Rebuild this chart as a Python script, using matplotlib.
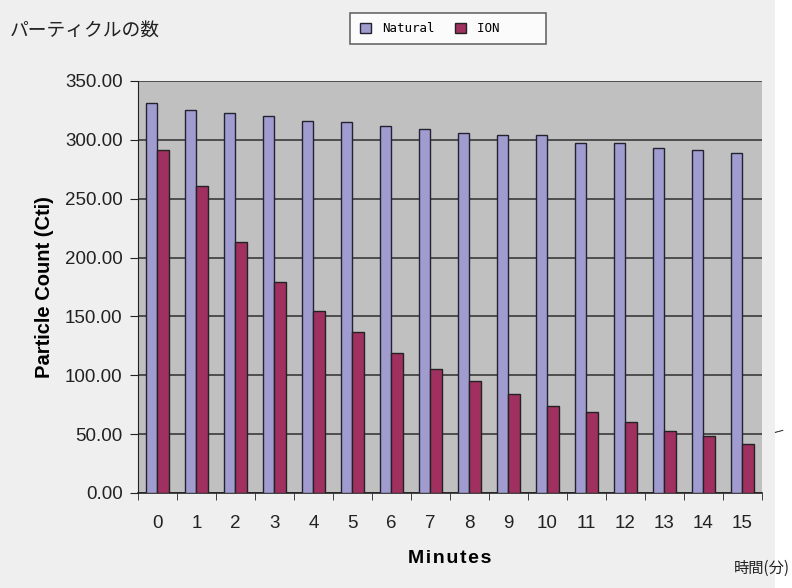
import numpy as np
import matplotlib.pyplot as plt
from matplotlib.patches import Rectangle

# Data
minutes = list(range(16))
natural = [331, 325, 323, 320, 316, 315, 312, 309, 306, 304, 304, 297, 297, 293, 291, 289]
ion = [291, 261, 213, 179, 155, 137, 119, 105, 95, 84, 74, 69, 60, 53, 48, 42]
y_ticks = [0, 50, 100, 150, 200, 250, 300, 350]

plt.rcParams['font.family'] = ['Liberation Sans', 'DejaVu Sans']

fig = plt.figure(figsize=(7.92, 5.88), dpi=100, facecolor='#efefef')
# white strip on the right edge
fig.patches.append(Rectangle((0.978, 0), 0.022, 1, transform=fig.transFigure,
                             facecolor='white', edgecolor='none', zorder=0))

ax = fig.add_axes([0.1742, 0.1616, 0.7879, 0.7007])
ax.set_facecolor('#c0c0c0')

x = np.arange(len(minutes))
w = 0.29
ax.bar(x, natural, width=-w, align='edge', color='#a09ccf', edgecolor='#222233',
       linewidth=1, label='Natural', zorder=3)
ax.bar(x, ion, width=w, align='edge', color='#a0305f', edgecolor='#222222',
       linewidth=1, label='ION     ', zorder=3)

ax.set_xlim(-0.5, 15.5)
ax.set_ylim(0, 350)
ax.set_yticks(y_ticks)
ax.set_yticklabels([f'{v:.2f}' for v in y_ticks], fontsize=13.5, color='#222222')
ax.yaxis.grid(True, color='#444444', linewidth=1.3, zorder=1)

ax.set_xticks(x)
ax.set_xticklabels([str(m) for m in minutes], fontsize=13.5, color='#222222')
ax.set_xticks(np.arange(-0.5, 16, 1), minor=True)
ax.tick_params(axis='x', which='major', length=0, pad=16)
ax.tick_params(axis='x', which='minor', length=5, direction='out', color='#222222')
ax.tick_params(axis='y', length=6, direction='out', color='#222222', pad=5)

for s in ['top', 'right']:
    ax.spines[s].set_visible(False)
ax.spines['left'].set_color('#222222')
ax.spines['bottom'].set_color('#222222')
ax.spines['bottom'].set_linewidth(1.2)

ax.set_ylabel('Particle Count (Cti)', fontsize=14.5, fontweight='bold', labelpad=8)
ax.set_xlabel('M i n u t e s'.replace(' ', '\u200a'), fontsize=14, fontweight='bold', labelpad=13)

leg = fig.legend(loc='center', bbox_to_anchor=(0.566, 0.9515), ncol=2,
                 prop={'family': 'DejaVu Sans Mono', 'size': 9},
                 frameon=True, fancybox=False, edgecolor='#444444',
                 handlelength=0.9, handleheight=0.9, handletextpad=0.9,
                 columnspacing=1.6, borderpad=0.75, borderaxespad=0)
leg.get_frame().set_linewidth(1.2)

jp = ['Noto Sans CJK JP', 'DejaVu Sans']
fig.text(0.012, 0.949, 'パーティクルの数', fontsize=13.5, family=jp, va='center', color='#222222')
fig.text(0.927, 0.034, '時間(分)', fontsize=11, family=jp, va='center', color='#222222')
fig.text(0.976, 0.265, 'ー', fontsize=8, family=jp, va='center', color='#333333', rotation=15)

fig.savefig('out.png', dpi=100, facecolor=fig.get_facecolor())
